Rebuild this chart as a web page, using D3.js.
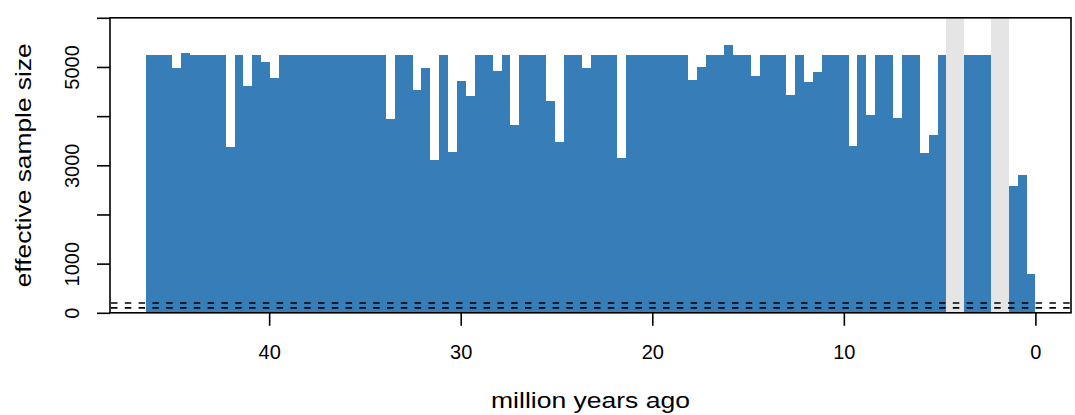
<!DOCTYPE html>
<html>
<head>
<meta charset="utf-8">
<script src="https://cdn.jsdelivr.net/npm/d3@7"></script>
<style>
  html, body { margin: 0; padding: 0; background: #fff; }
  svg { display: block; font-family: "Liberation Sans", Arial, Helvetica, sans-serif; }
</style>
</head>
<body>
<svg id="chart" width="1075" height="415"></svg>
<script>
// ---- data ----
const rootAge = 46.45; // million years ago (oldest bin edge)
// effective sample size per time bin, oldest (left) to youngest (right); null = no estimate (grey band)
const essValues = [
  5238, 5238, 5238, 4973, 5293, 5238, 5238, 5238, 5238, 3363,
  5238, 4620, 5238, 5096, 4783, 5238, 5238, 5238, 5238, 5238,
  5238, 5238, 5238, 5238, 5238, 5238, 5238, 3934, 5238, 5238,
  4539, 4973, 3098, 5238, 3268, 4709, 4403, 5238, 5238, 4912,
  5238, 3812, 5238, 5238, 5238, 4301, 3465, 5238, 5238, 4973,
  5238, 5238, 5238, 3139, 5238, 5238, 5238, 5238, 5238, 5238,
  5238, 4729, 4994, 5238, 5238, 5442, 5238, 5238, 4810, 5238,
  5238, 5238, 4437, 5238, 4688, 4892, 5238, 5238, 5238, 3397,
  5238, 4016, 5238, 5238, 3954, 5238, 5238, 3241, 3608, 5238,
  null, null, 5238, 5238, 5238, null, null, 2589, 2793, 789
];
const essThresholds = [200, 100];
const xTicks = [40, 30, 20, 10, 0];
const yTicks = [0, 1000, 2000, 3000, 4000, 5000, 6000];
const yTickLabels = ["0", "1000", "", "3000", "", "5000", ""];
const xTitle = "million years ago";
const yTitle = "effective sample size";

// ---- layout ----
const plotL = 110, plotR = 1071, plotT = 17.8, plotB = 312.8;
const barColor = "#377EB8", naColor = "#E5E5E5";

const nBins = essValues.length;
const binWidth = rootAge / nBins;
const bins = essValues.map((v, i) => ({
  older: rootAge - i * binWidth,
  younger: rootAge - (i + 1) * binWidth,
  value: v
}));

const pad = rootAge * 0.04;
const x = d3.scaleLinear().domain([rootAge + pad, -pad]).range([plotL, plotR]);
const y = d3.scaleLinear().domain([0, 6000]).range([plotB, plotT]);

const svg = d3.select("#chart");

// grey bands for bins without estimate
svg.append("g").selectAll("rect")
  .data(bins.filter(b => b.value === null))
  .join("rect")
  .attr("x", d => x(d.older))
  .attr("width", d => x(d.younger) - x(d.older))
  .attr("y", plotT)
  .attr("height", plotB - plotT)
  .attr("fill", naColor)
  .attr("shape-rendering", "crispEdges");

// bars
svg.append("g").selectAll("rect")
  .data(bins.filter(b => b.value !== null))
  .join("rect")
  .attr("x", d => x(d.older))
  .attr("width", d => x(d.younger) - x(d.older))
  .attr("y", d => y(d.value))
  .attr("height", d => y(0) - y(d.value))
  .attr("fill", barColor)
  .attr("shape-rendering", "crispEdges");

// threshold dashed lines
svg.append("g").selectAll("line")
  .data(essThresholds)
  .join("line")
  .attr("x1", plotL).attr("x2", plotR)
  .attr("y1", d => y(d)).attr("y2", d => y(d))
  .attr("stroke", "#000")
  .attr("stroke-width", 1.6)
  .attr("stroke-dasharray", "6.5,7.3")
  .attr("stroke-dashoffset", -1);

// x axis
const xAxis = d3.axisBottom(x).tickValues(xTicks).tickSize(13).tickPadding(8)
  .tickFormat(d3.format("d"));
const gx = svg.append("g").attr("transform", `translate(0,${plotB})`).call(xAxis);
gx.select(".domain").remove();
gx.selectAll(".tick line").attr("stroke", "#000").attr("stroke-width", 1.6);
gx.selectAll(".tick text")
  .attr("fill", "#000")
  .attr("font-size", "20px")
  .attr("font-family", "Liberation Sans, Arial, sans-serif")
  .attr("dy", null)
  .attr("y", 359.3 - plotB)
  .attr("dominant-baseline", "alphabetic");

// y axis
const yAxis = d3.axisLeft(y).tickValues(yTicks).tickSize(13)
  .tickFormat((d, i) => yTickLabels[i]);
const gy = svg.append("g").attr("transform", `translate(${plotL},0)`).call(yAxis);
gy.select(".domain").remove();
gy.selectAll(".tick line").attr("stroke", "#000").attr("stroke-width", 1.6);
gy.selectAll(".tick text")
  .attr("fill", "#000")
  .attr("font-size", "20px")
  .attr("font-family", "Liberation Sans, Arial, sans-serif")
  .attr("x", null).attr("dy", null)
  .attr("text-anchor", "middle")
  .attr("transform", `translate(${78.8 - plotL},0) rotate(-90)`);

// box
svg.append("rect")
  .attr("x", plotL).attr("y", plotT)
  .attr("width", plotR - plotL).attr("height", plotB - plotT)
  .attr("fill", "none").attr("stroke", "#000").attr("stroke-width", 1.6);

// titles
svg.append("text")
  .attr("x", (plotL + plotR) / 2).attr("y", 407.5)
  .attr("text-anchor", "middle")
  .attr("font-size", "22px")
  .attr("textLength", 199).attr("lengthAdjust", "spacingAndGlyphs")
  .attr("fill", "#000")
  .text(xTitle);

svg.append("text")
  .attr("transform", `translate(30.5,${(plotT + plotB) / 2}) rotate(-90)`)
  .attr("text-anchor", "middle")
  .attr("font-size", "22px")
  .attr("textLength", 244).attr("lengthAdjust", "spacingAndGlyphs")
  .attr("fill", "#000")
  .text(yTitle);
</script>
</body>
</html>
